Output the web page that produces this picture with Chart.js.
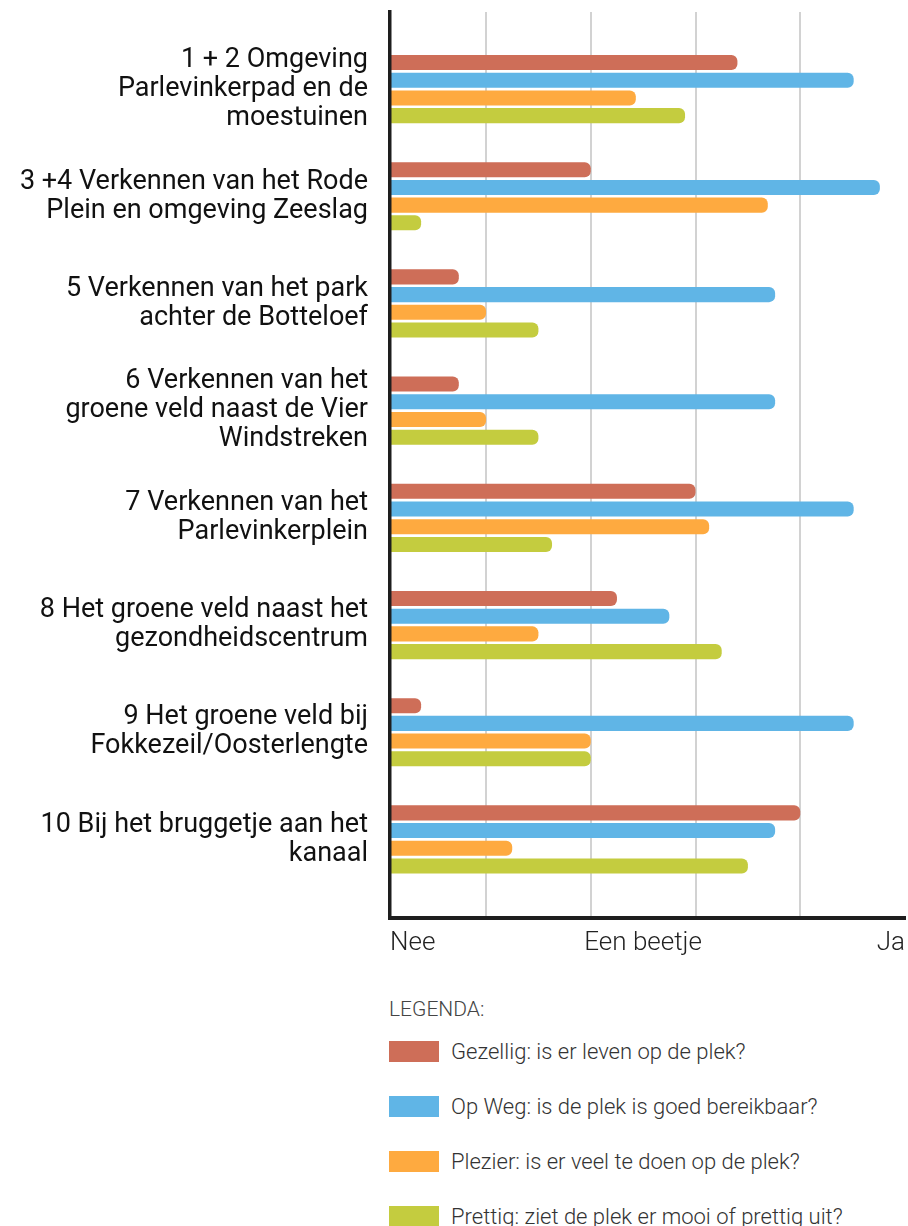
<!DOCTYPE html>
<html>
<head>
<meta charset="utf-8">
<script src="https://cdn.jsdelivr.net/npm/chart.js@4.4.1/dist/chart.umd.min.js"></script>
<style>
  body { margin: 0; background: #fff; }
  #wrap { position: relative; width: 908px; height: 1226px; overflow: hidden; }
  #legend { position: absolute; left: 389px; top: 997px; font-family: Roboto, sans-serif; font-weight: 300; color: #333; }
  #legend .title { font-size: 21px; line-height: 24px; color: #444; margin-bottom: 20px; }
  #legend .item { display: flex; align-items: center; height: 21px; margin-bottom: 34px; font-size: 22px; white-space: nowrap; }
  #legend .box { width: 50px; height: 21px; margin-right: 12px; flex: none; }
</style>
</head>
<body>
<div id="wrap">
  <canvas id="chart" width="908" height="960"></canvas>
  <div id="legend"></div>
</div>
<script>
// places (y axis), multi-line labels
const places = [
    ['1 + 2 Omgeving', 'Parlevinkerpad en de', 'moestuinen'],
    ['3 +4 Verkennen van het Rode', 'Plein en omgeving Zeeslag'],
    ['5 Verkennen van het park', 'achter de Botteloef'],
    ['6 Verkennen van het', 'groene veld naast de Vier', 'Windstreken'],
    ['7 Verkennen van het', 'Parlevinkerplein'],
    ['8 Het groene veld naast het', 'gezondheidscentrum'],
    ['9 Het groene veld bij', 'Fokkezeil/Oosterlengte'],
    ['10 Bij het bruggetje aan het', 'kanaal']
];

// series values (0 = Nee ... 5 = Ja)
const gezellig = [3.40, 2.00, 0.74, 0.74, 3.00, 2.25, 0.38, 4.00];
const opWeg    = [4.51, 4.76, 3.76, 3.76, 4.51, 2.75, 4.51, 3.76];
const plezier  = [2.43, 3.69, 1.00, 1.00, 3.13, 1.50, 2.00, 1.25];
const prettig  = [2.90, 0.38, 1.50, 1.50, 1.63, 3.25, 2.00, 3.50];

const seriesNames = [
    'Gezellig: is er leven op de plek?',
    'Op Weg: is de plek is goed bereikbaar?',
    'Plezier: is er veel te doen op de plek?',
    'Prettig: ziet de plek er mooi of prettig uit?'
];
const seriesColors = ['#CE6E58', '#60B5E6', '#FEAA40', '#C4CC3F'];

// x axis ticks
const xMin = 0.083;
const xMax = 5;
const xLabelValues = [xMin, 2.5, 5];
const xTickLabels = ['Nee', 'Een beetje', 'Ja'];
const gridValues = [1, 2, 3, 4];

const legendTitle = 'LEGENDA:';

function makeDataset(name, values, color) {
    return {
        label: name,
        data: values.map((v, i) => ({ x: v, y: i })),
        backgroundColor: color,
        borderWidth: 0,
        borderRadius: 6,
        base: xMin,
        barPercentage: 0.85,
        categoryPercentage: 0.661
    };
}

const allSeries = [gezellig, opWeg, plezier, prettig];
const datasets = allSeries.map((vals, i) => makeDataset(seriesNames[i], vals, seriesColors[i]));

const ctx = document.getElementById('chart').getContext('2d');
const chart = new Chart(ctx, {
    type: 'bar',
    data: { datasets: datasets },
    options: {
        indexAxis: 'y',
        responsive: false,
        animation: false,
        devicePixelRatio: 1,
        layout: { padding: { top: 12, right: 3, bottom: 0, left: 0 } },
        plugins: {
            legend: { display: false },
            tooltip: { enabled: false }
        },
        scales: {
            x: {
                type: 'linear',
                min: xMin,
                max: xMax,
                afterBuildTicks: (scale) => {
                    const vals = gridValues.concat(xLabelValues).sort((a, b) => a - b);
                    scale.ticks = vals.map(v => ({ value: v }));
                },
                afterFit: (scale) => {
                    scale.height = 42;
                    scale.paddingLeft = 0;
                    scale.paddingRight = 0;
                },
                grid: {
                    drawTicks: false,
                    lineWidth: 2,
                    color: (c) => (c.tick && gridValues.includes(c.tick.value)) ? '#d2d2d2' : 'rgba(0,0,0,0)'
                },
                border: { color: '#1e1e1e', width: 4, z: 1 },
                ticks: {
                    autoSkip: false,
                    maxRotation: 0,
                    align: 'inner',
                    padding: 10,
                    color: '#222',
                    font: { family: 'Roboto', size: 26, weight: 300 },
                    callback: (value) => {
                        const k = xLabelValues.indexOf(value);
                        return k >= 0 ? xTickLabels[k] : '';
                    }
                }
            },
            y: {
                type: 'linear',
                reverse: true,
                offset: false,
                min: -0.719,
                max: 7.733,
                afterBuildTicks: (scale) => {
                    scale.ticks = places.map((p, i) => ({ value: i }));
                },
                afterFit: (scale) => {
                    scale.width = 390;
                    scale.paddingTop = 0;
                    scale.paddingBottom = 0;
                },
                grid: { display: false, offset: false },
                border: { color: '#1e1e1e', width: 3.5, z: 1 },
                ticks: {
                    autoSkip: false,
                    padding: 14,
                    color: '#111',
                    font: { family: 'Roboto', size: 27, lineHeight: 1.074 },
                    callback: (value) => places[value] || ''
                }
            }
        }
    }
});

// legend built from the chart's own datasets
const legendEl = document.getElementById('legend');
const title = document.createElement('div');
title.className = 'title';
title.textContent = legendTitle;
legendEl.appendChild(title);
chart.data.datasets.forEach(ds => {
    const item = document.createElement('div');
    item.className = 'item';
    const box = document.createElement('span');
    box.className = 'box';
    box.style.background = ds.backgroundColor;
    const txt = document.createElement('span');
    txt.textContent = ds.label;
    item.appendChild(box);
    item.appendChild(txt);
    legendEl.appendChild(item);
});
</script>
</body>
</html>
